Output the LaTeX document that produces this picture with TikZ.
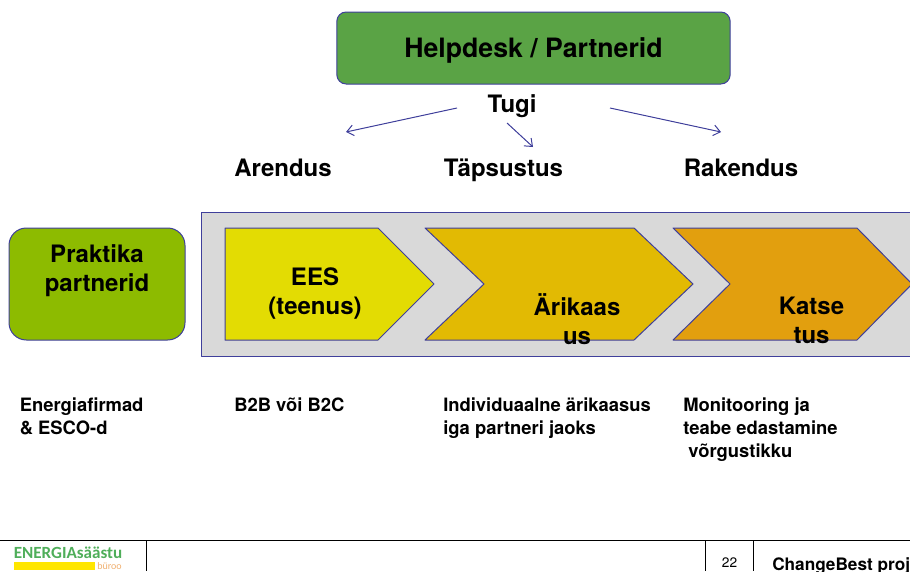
\documentclass[tikz,border=0pt]{standalone}
\usepackage{fontspec}
\usetikzlibrary{arrows.meta}
\setmainfont{TeX Gyre Heros}
\newfontfamily\logofont{Carlito}

\definecolor{edgeblue}{HTML}{3F3F9B}
\definecolor{helpgreen}{HTML}{5AA345}
\definecolor{practgreen}{HTML}{8DBB00}
\definecolor{panelgray}{HTML}{D9D9D9}
\definecolor{stepyellow}{HTML}{E3DC03}
\definecolor{stepgold}{HTML}{E2BA03}
\definecolor{steporange}{HTML}{E29F0E}
\definecolor{logogreen}{HTML}{4FAE5A}
\definecolor{logoyellow}{HTML}{FFE600}
\definecolor{logoorange}{HTML}{F0B070}

\tikzset{
	>={Straight Barb[length=5pt,width=8pt]},
	shapeline/.style={draw=edgeblue,line width=0.75pt,line join=round},
	pointer/.style={edgeblue,->,line width=0.75pt},
	heading/.style={font=\fontsize{18}{22}\selectfont\bfseries,inner sep=0pt},
	steplabel/.style={font=\fontsize{18}{22}\selectfont\bfseries,align=center,inner sep=0pt},
	note/.style={font=\fontsize{13.8}{17.25}\selectfont\bfseries,align=left,anchor=north west,inner sep=0pt},
	footline/.style={black,line width=0.7pt}
}

\begin{document}
\begin{tikzpicture}[x=0.75pt,y=-0.75pt]
		\useasboundingbox (0,0) rectangle (910,571);

		% top box and the three arrows
		\node[shapeline,fill=helpgreen,rounded corners=7pt,minimum width=295pt,minimum height=54pt,inner sep=0pt,text height=14pt,text depth=0pt,font=\fontsize{20}{24}\selectfont\bfseries] (help) at (533.5,48) {Helpdesk / Partnerid};
		\node[heading,anchor=base] (tugi) at (512,112) {Tugi};

		\coordinate (left1) at (457,108);
		\coordinate (left2) at (346,132);
		\coordinate (mid1) at (507,123);
		\coordinate (mid2) at (533,147);
		\coordinate (right1) at (610,108);
		\coordinate (right2) at (721,132);
		\draw[pointer] (left1) -- (left2);
		\draw[pointer] (mid1) -- (mid2);
		\draw[pointer] (right1) -- (right2);

		\node[heading,anchor=base] (arendus) at (283,176.5) {Arendus};
		\node[heading,anchor=base] (tapsustus) at (503.5,176.5) {Täpsustus};
		\node[heading,anchor=base] (rakendus) at (741,176.5) {Rakendus};

		% practice partners
		\node[shapeline,fill=practgreen,rounded corners=13pt,minimum width=132pt,minimum height=84pt,inner sep=0pt] (practbox) at (97,284) {};
		\node[steplabel] (practice) at (97,271) {Praktika\\partnerid};

		% panel with the steps
		\fill[panelgray] (201.5,212) rectangle (915,356);
		\draw[shapeline] (915,212) -- (201.5,212) -- (201.5,356) -- (915,356);

		\draw[shapeline,fill=stepyellow] (225,228) -- (378,228) -- (434,284) -- (378,340) -- (225,340) -- cycle;
		\draw[shapeline,fill=stepgold] (425,228) -- (634,228) -- (693,284) -- (634,340) -- (425,340) -- (484,284) -- cycle;
		\draw[shapeline,fill=steporange] (673,228) -- (857,228) -- (912,284) -- (857,340) -- (673,340) -- (730,284) -- cycle;

		\node[steplabel] (ees) at (315,293.5) {EES\\(teenus)};
		\node[steplabel] (business) at (577,319) {Ärikaas\\us};
		\node[steplabel] (pilot) at (811.5,320.5) {Katse\\tus};

		% notes under the steps
		\node[note] (note1) at (19.5,398) {Energiafirmad\\\& ESCO-d};
		\node[note] (note2) at (234,398) {B2B või B2C};
		\node[note] (note3) at (443,398) {Individuaalne ärikaasus\\iga partneri jaoks};
		\node[note] (note4) at (683,398) {Monitooring ja\\teabe edastamine\\\ võrgustikku};

		% footer
		\coordinate (footl) at (0,540.5);
		\coordinate (footr) at (910,540.5);
		\draw[footline] (footl) -- (footr);
		\draw[footline] (146,540.5) -- (146,571);
		\draw[footline] (705,540.5) -- (705,571);
		\draw[footline] (753,540.5) -- (753,571);

		\fill[logoyellow] (13.5,562) rectangle (95,569.5);
		\node[font=\logofont\fontsize{12.8}{16}\selectfont\bfseries,text=logogreen,anchor=base west,inner sep=0pt] (logo) at (13.5,558) {ENERGIAsäästu};
		\node[font=\logofont\fontsize{7.5}{10}\selectfont,text=logoorange,anchor=base west,inner sep=0pt] (office) at (97,569.5) {büroo};

		\node[font=\fontsize{10.3}{12}\selectfont,anchor=base,inner sep=0pt] (pageno) at (729.5,567.5) {22};
		\node[font=\fontsize{12.9}{14}\selectfont\bfseries,anchor=base west,inner sep=0pt] (project) at (772,570) {ChangeBest proj};
\end{tikzpicture}
\end{document}
